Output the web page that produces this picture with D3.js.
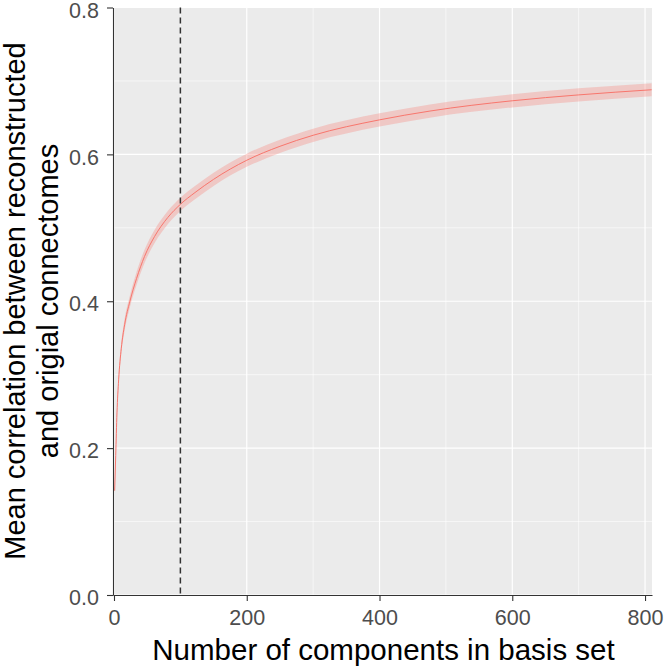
<!DOCTYPE html>
<html>
<head>
<meta charset="utf-8">
<script src="https://cdn.jsdelivr.net/npm/d3@7"></script>
<style>
  body { margin: 0; background: #fff; }
  text { font-family: "Liberation Sans", Arial, sans-serif; }
</style>
</head>
<body>
<div id="chart"></div>
<script>
// values
const components = [1, 2.6, 4.5, 7, 11, 16, 24, 34, 46, 61, 81, 100, 122, 150, 200, 250, 300, 400, 476, 600, 700, 810];
const meanCorr   = [0.142, 0.190, 0.248, 0.293, 0.336, 0.368, 0.400, 0.431, 0.461, 0.488, 0.514, 0.532, 0.548, 0.566, 0.592, 0.611, 0.626, 0.647, 0.659, 0.673, 0.681, 0.688];
const ciHalf     = [0.004, 0.005, 0.006, 0.007, 0.007, 0.008, 0.008, 0.009, 0.009, 0.009, 0.009, 0.009, 0.009, 0.009, 0.009, 0.009, 0.009, 0.009, 0.009, 0.009, 0.009, 0.009];
const xTicks = [0, 200, 400, 600, 800];
const xMinor = [100, 300, 500, 700];
const yTicks = [0, 0.2, 0.4, 0.6, 0.8];
const yMinor = [0.1, 0.3, 0.5, 0.7];
const cutoff = 100;

const width = 664, height = 667;
const margin = {top: 7.5, right: 12, bottom: 72, left: 113};

const data = components.map((c, i) => ({x: c, y: meanCorr[i], lo: meanCorr[i] - ciHalf[i], hi: meanCorr[i] + ciHalf[i]}));

const x = d3.scaleLinear().domain([-1.5, 810.5]).range([margin.left, width - margin.right]);
const y = d3.scaleLinear().domain([0, 0.8]).range([height - margin.bottom, margin.top]);

const svg = d3.select("#chart").append("svg")
  .attr("width", width).attr("height", height);

// panel
svg.append("rect")
  .attr("x", margin.left).attr("y", margin.top)
  .attr("width", width - margin.left - margin.right)
  .attr("height", height - margin.top - margin.bottom)
  .attr("fill", "#EBEBEB");

let grid = svg.append("g");
grid.selectAll("line.ymin").data(yMinor).join("line")
  .attr("x1", margin.left).attr("x2", width - margin.right)
  .attr("y1", d => y(d)).attr("y2", d => y(d))
  .attr("stroke", "#fff").attr("stroke-width", 0.6);
grid.selectAll("line.xmin").data(xMinor).join("line")
  .attr("y1", margin.top).attr("y2", height - margin.bottom)
  .attr("x1", d => x(d)).attr("x2", d => x(d))
  .attr("stroke", "#fff").attr("stroke-width", 0.6);
grid.selectAll("line.ymaj").data(yTicks).join("line")
  .attr("x1", margin.left).attr("x2", width - margin.right)
  .attr("y1", d => y(d)).attr("y2", d => y(d))
  .attr("stroke", "#fff").attr("stroke-width", 1.2);
grid.selectAll("line.xmaj").data(xTicks).join("line")
  .attr("y1", margin.top).attr("y2", height - margin.bottom)
  .attr("x1", d => x(d)).attr("x2", d => x(d))
  .attr("stroke", "#fff").attr("stroke-width", 1.2);

// ribbon + line
let area = d3.area().x(d => x(d.x)).y0(d => y(d.lo)).y1(d => y(d.hi)).curve(d3.curveMonotoneX);
let line = d3.line().x(d => x(d.x)).y(d => y(d.y)).curve(d3.curveMonotoneX);

svg.append("path").datum(data)
  .attr("d", area)
  .attr("fill", "#F8766D").attr("fill-opacity", 0.3);

svg.append("path").datum(data)
  .attr("d", line)
  .attr("fill", "none").attr("stroke", "#F8766D").attr("stroke-width", 1);

// cut-off line
svg.append("line")
  .attr("x1", x(cutoff)).attr("x2", x(cutoff))
  .attr("y1", margin.top).attr("y2", height - margin.bottom)
  .attr("stroke", "#333").attr("stroke-width", 1.5)
  .attr("stroke-dasharray", "6,4");

// axes
let xAxis = d3.axisBottom(x).tickValues(xTicks).tickSize(6).tickPadding(9).tickSizeOuter(0);
let yAxis = d3.axisLeft(y).tickValues(yTicks).tickSize(6).tickPadding(8).tickSizeOuter(0)
  .tickFormat(d3.format(".1f"));

let gx = svg.append("g")
  .attr("transform", `translate(0,${height - margin.bottom})`)
  .call(xAxis);
let gy = svg.append("g")
  .attr("transform", `translate(${margin.left},0)`)
  .call(yAxis);

[gx, gy].forEach(g => {
  g.select(".domain").attr("stroke", "#333").attr("stroke-width", 1.1);
  g.selectAll(".tick line").attr("stroke", "#333").attr("stroke-width", 1.1);
  g.selectAll(".tick text")
    .attr("fill", "#4D4D4D")
    .style("font-size", "21.5px")
    .style("font-family", '"Liberation Sans", Arial, sans-serif');
});
gy.selectAll(".tick text").attr("dy", "0.45em");

// axis titles
svg.append("text")
  .attr("x", (margin.left + width - margin.right) / 2 + 1)
  .attr("y", 660)
  .attr("text-anchor", "middle")
  .style("font-size", "29.5px")
  .attr("fill", "#000")
  .text("Number of components in basis set");

let yMid = 301;
svg.append("text")
  .attr("transform", `translate(25,${yMid}) rotate(-90)`)
  .attr("text-anchor", "middle")
  .style("font-size", "29px")
  .text("Mean correlation between reconstructed");
svg.append("text")
  .attr("transform", `translate(57.5,${yMid}) rotate(-90)`)
  .attr("text-anchor", "middle")
  .style("font-size", "29px")
  .text("and origial connectomes");
</script>
</body>
</html>
